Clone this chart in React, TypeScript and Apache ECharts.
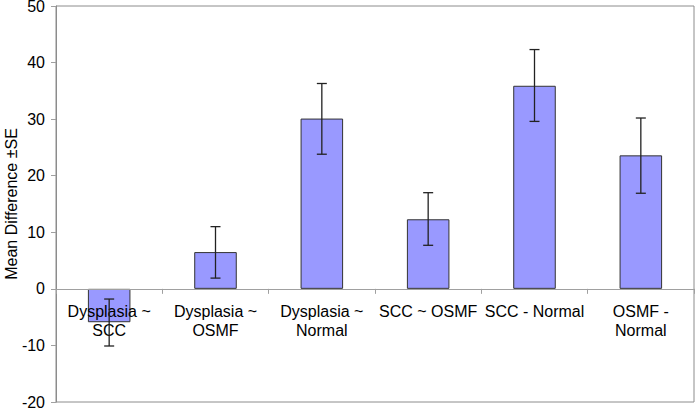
import React, { useEffect, useRef } from "react";
import * as echarts from "echarts";

const categories = [
  "Dysplasia ~\nSCC",
  "Dysplasia ~\nOSMF",
  "Dysplasia ~\nNormal",
  "SCC ~ OSMF",
  "SCC - Normal",
  "OSMF -\nNormal",
];
const meanDiff = [-5.9, 6.5, 30.1, 12.3, 35.9, 23.6];
const errLow = [-10.1, 1.9, 23.8, 7.7, 29.6, 16.9];
const errHigh = [-1.8, 11.0, 36.3, 17.0, 42.3, 30.2];
const yTicks = { min: -20, max: 50, interval: 10 };

export default function App() {
  const ref = useRef<HTMLDivElement>(null);
  useEffect(() => {
    if (!ref.current) return;
    const chart = echarts.init(ref.current, null, { renderer: "svg" });
    const font = "Liberation Sans, Arial, sans-serif";
    chart.setOption({
      animation: false,
      grid: {
        left: 56,
        right: 2,
        top: 6,
        bottom: 6,
        show: true,
        borderColor: "#8c8c8c",
        borderWidth: 1,
        containLabel: false,
        outerBoundsMode: "none",
      },
      xAxis: {
        type: "category",
        data: categories,
        z: 3,
        axisLine: { onZero: true, lineStyle: { color: "#a0a0a0", width: 1 } },
        axisTick: { show: true, length: 5, alignWithLabel: false, lineStyle: { color: "#a0a0a0" } },
        axisLabel: { show: false },
      },
      yAxis: {
        type: "value",
        min: yTicks.min,
        max: yTicks.max,
        interval: yTicks.interval,
        name: "Mean Difference \u00b1SE",
        nameLocation: "middle",
        nameGap: 37,
        nameMoveOverlap: false,
        nameTextStyle: { color: "#000", fontSize: 16, fontFamily: font },
        axisLine: { show: true, lineStyle: { color: "#8c8c8c" } },
        axisTick: { show: true, length: 5, lineStyle: { color: "#a0a0a0" } },
        axisLabel: { color: "#000", fontSize: 16, fontFamily: font, margin: 11 },
        splitLine: { show: false },
      },
      series: [
        {
          type: "bar",
          data: meanDiff,
          barWidth: "40%",
          z: 2,
          itemStyle: { color: "#9999ff", borderColor: "#333333", borderWidth: 1 },
        },
        {
          type: "custom",
          z: 4,
          silent: true,
          data: categories.map((_, i) => [i, 0]),
          renderItem: (params: any, api: any) => {
            const i = api.value(0);
            const p = api.coord([i, api.value(1)]);
            return {
              type: "text",
              x: p[0],
              y: p[1] + 13,
              style: {
                text: categories[params.dataIndex],
                fill: "#000",
                font: `16px ${font}`,
                fontSize: 16,
                fontFamily: font,
                lineHeight: 19,
                align: "center",
                verticalAlign: "top",
              },
            };
          },
        },
        {
          type: "custom",
          z: 5,
          data: categories.map((_, i) => [i, errLow[i], errHigh[i]]),
          renderItem: (params: any, api: any) => {
            const x = api.value(0);
            const lo = api.coord([x, api.value(1)]);
            const hi = api.coord([x, api.value(2)]);
            const cap = 5;
            const style = { stroke: "#222", lineWidth: 1.3 };
            return {
              type: "group",
              children: [
                { type: "line", shape: { x1: lo[0], y1: lo[1], x2: hi[0], y2: hi[1] }, style },
                { type: "line", shape: { x1: lo[0] - cap, y1: lo[1], x2: lo[0] + cap, y2: lo[1] }, style },
                { type: "line", shape: { x1: hi[0] - cap, y1: hi[1], x2: hi[0] + cap, y2: hi[1] }, style },
              ],
            };
          },
        },
      ],
    });
    return () => chart.dispose();
  }, []);
  return (
    <div
      ref={ref}
      style={{ position: "absolute", left: 0, top: 0, width: 696, height: 408, background: "#fff" }}
    />
  );
}
